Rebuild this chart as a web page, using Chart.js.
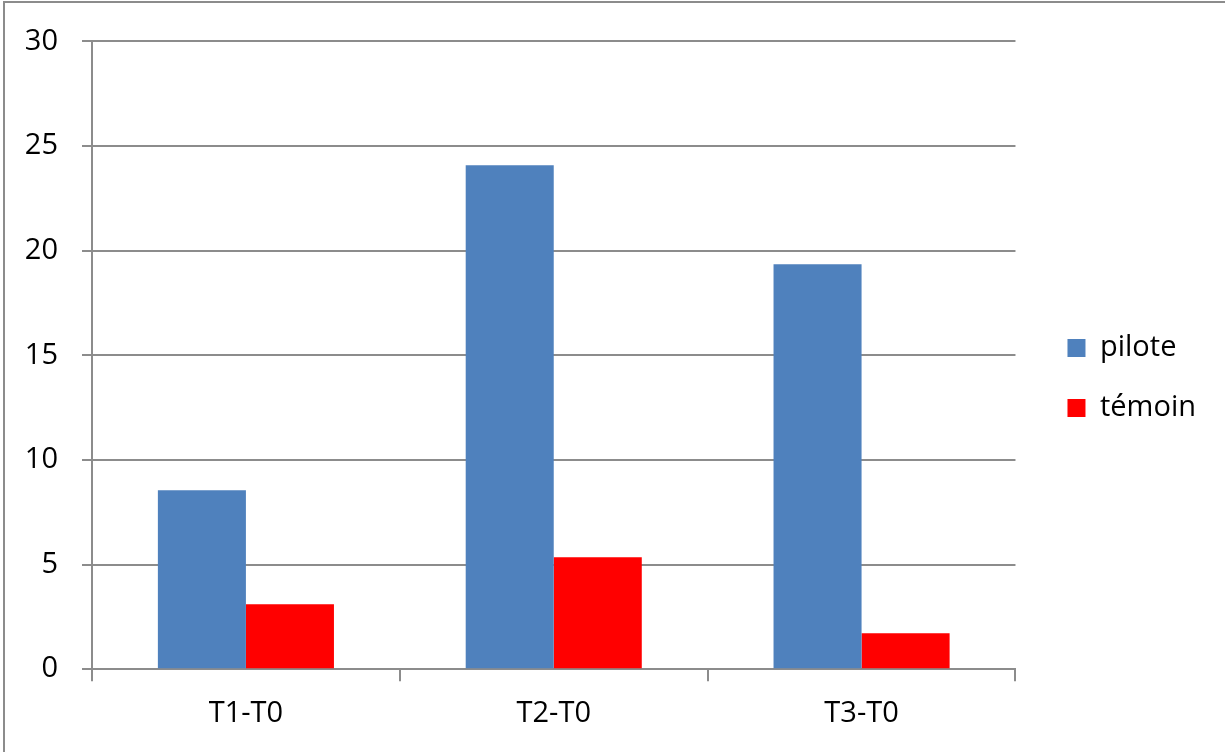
<!DOCTYPE html>
<html>
<head>
<meta charset="utf-8">
<script src="https://cdn.jsdelivr.net/npm/chart.js@4"></script>
<style>
  body { margin: 0; background: #fff; }
  #wrap { position: relative; width: 1225px; height: 752px; }
  #frame {
    position: absolute; left: 3px; top: 1px; right: 0; bottom: 0;
    border-left: 2px solid #8c8c8c; border-top: 2px solid #8c8c8c;
    pointer-events: none;
  }
</style>
</head>
<body>
<div id="wrap">
  <canvas id="chart" width="1225" height="752"></canvas>
  <div id="frame"></div>
</div>
<script>
// data
const categories = ['T1-T0', 'T2-T0', 'T3-T0'];
const pilote = [8.55, 24.08, 19.35];
const temoin = [3.1, 5.35, 1.72];
const yTicks = [0, 5, 10, 15, 20, 25, 30];

const gridGrey = '#8c8c8c';
const font = { family: '"Open Sans", sans-serif', size: 29 };

// empty axis used only as spacing
function spacer(position, size) {
  return {
    type: 'linear', position: position, display: true,
    grid: { display: false }, ticks: { display: false }, border: { display: false },
    afterFit: s => { if (position === 'top') s.height = size; else s.width = size; }
  };
}

new Chart(document.getElementById('chart'), {
  type: 'bar',
  data: {
    labels: categories,
    datasets: [
      { label: 'pilote', data: pilote, backgroundColor: '#4f81bd' },
      { label: 'témoin', data: temoin, backgroundColor: '#ff0000' }
    ]
  },
  options: {
    responsive: false,
    animation: false,
    events: [],
    categoryPercentage: 0.572,
    barPercentage: 1,
    layout: { padding: { top: 10, left: 0, right: 19, bottom: 6 } },
    plugins: {
      tooltip: { enabled: false },
      legend: {
        position: 'right',
        labels: {
          boxWidth: 18, boxHeight: 18, padding: 31,
          color: '#000', font: font
        }
      }
    },
    scales: {
      x: {
        offset: true,
        grid: { offset: true, drawOnChartArea: false, drawTicks: true, tickLength: 12, color: gridGrey, lineWidth: 2 },
        border: { color: gridGrey, width: 2 },
        ticks: { color: '#000', font: font, padding: 15 }
      },
      y: {
        min: 0, max: 30,
        afterBuildTicks: s => { s.ticks = yTicks.map(v => ({ value: v })); },
        grid: { color: gridGrey, lineWidth: 2, tickLength: 10 },
        border: { color: gridGrey, width: 2 },
        ticks: { color: '#000', font: font, padding: 24 },
        afterFit: s => { s.width = 92; }
      },
      gapRight: spacer('right', 21),
      gapTop: spacer('top', 31)
    }
  }
});
</script>
</body>
</html>
